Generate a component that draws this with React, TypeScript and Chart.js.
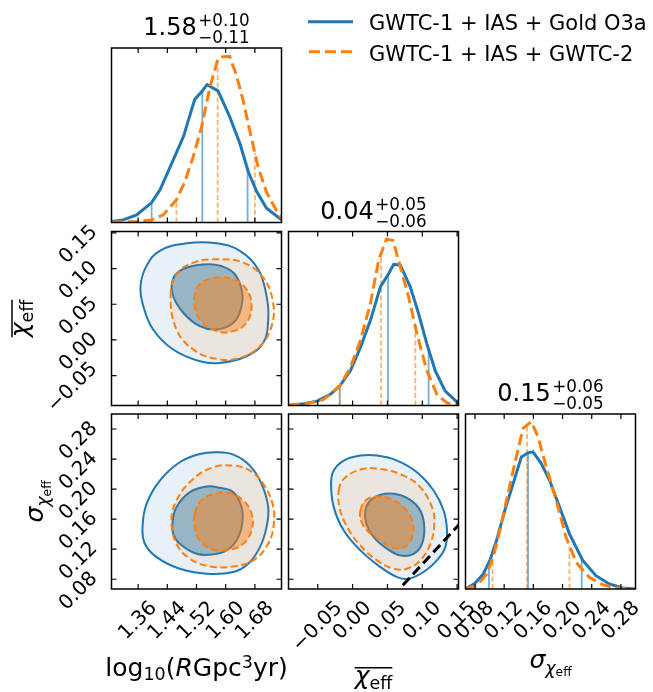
import React, { useEffect, useRef } from "react";
import { Chart, registerables } from "chart.js";

Chart.register(...registerables);

const W = 653;
const H = 692;
const BLUE = "#1f77b4";
const ORANGE = "#ff7f0e";
const FAMILY = '"DejaVu Sans", sans-serif';

// ---------- axis ranges and ticks ----------
const logRRange = [1.287, 1.753];
const chiRange = [-0.092, 0.152];
const sigmaRange = [0.067, 0.3];
const densityRange = [0, 1];

const logRTicks = [1.36, 1.44, 1.52, 1.6, 1.68];
const logRTickLabels = ["1.36", "1.44", "1.52", "1.60", "1.68"];
const chiTicks = [-0.05, 0, 0.05, 0.1, 0.15];
const chiTickLabels = ["\u22120.05", "0.00", "0.05", "0.10", "0.15"];
const sigmaTicks = [0.08, 0.12, 0.16, 0.2, 0.24, 0.28];
const sigmaTickLabels = ["0.08", "0.12", "0.16", "0.20", "0.24", "0.28"];

const seriesNames = ["GWTC-1 + IAS + Gold O3a", "GWTC-1 + IAS + GWTC-2"];
const logRTitle = ["1.58", "+0.10", "\u22120.11"];
const chiTitle = ["0.04", "+0.05", "\u22120.06"];
const sigmaTitle = ["0.15", "+0.06", "\u22120.05"];

// ---------- 1D marginals (relative density) ----------
const goldLogRX = [1.287, 1.319, 1.356, 1.397, 1.42, 1.456, 1.484, 1.515, 1.534, 1.549, 1.579, 1.611, 1.639, 1.662, 1.685, 1.712, 1.753];
const goldLogRY = [0.006, 0.015, 0.044, 0.114, 0.187, 0.358, 0.491, 0.705, 0.749, 0.79, 0.754, 0.606, 0.453, 0.291, 0.177, 0.082, 0.015];
const gwtc2LogRX = [1.287, 1.356, 1.397, 1.429, 1.465, 1.488, 1.511, 1.534, 1.557, 1.579, 1.589, 1.611, 1.63, 1.648, 1.666, 1.689, 1.712, 1.739, 1.753];
const gwtc2LogRY = [0.002, 0.006, 0.015, 0.044, 0.13, 0.234, 0.377, 0.549, 0.777, 0.939, 0.949, 0.952, 0.84, 0.697, 0.526, 0.316, 0.173, 0.069, 0.025];
const goldLogRQuantiles = [1.397, 1.536, 1.66];
const gwtc2LogRQuantiles = [1.465, 1.578, 1.68];

const goldChiX = [-0.0916, -0.0701, -0.051, -0.0319, -0.0185, -0.0032, 0.0112, 0.0255, 0.0398, 0.0518, 0.059, 0.0685, 0.0829, 0.0948, 0.1067, 0.1187, 0.133, 0.152];
const goldChiY = [0.002, 0.01, 0.025, 0.064, 0.112, 0.199, 0.334, 0.488, 0.681, 0.759, 0.811, 0.807, 0.681, 0.527, 0.353, 0.199, 0.083, 0.012];
const gwtc2ChiX = [-0.0916, -0.0653, -0.0414, -0.0185, -0.0032, 0.0112, 0.0255, 0.0375, 0.0485, 0.058, 0.0685, 0.0805, 0.0924, 0.1067, 0.121, 0.1354, 0.152];
const gwtc2ChiY = [0.002, 0.012, 0.035, 0.112, 0.218, 0.373, 0.585, 0.836, 0.956, 0.948, 0.797, 0.623, 0.411, 0.199, 0.064, 0.015, 0.002];
const goldChiQuantiles = [-0.0185, 0.0509, 0.1091];
const gwtc2ChiQuantiles = [-0.0185, 0.0408, 0.09];

const goldSigX = [0.0673, 0.08, 0.0914, 0.1005, 0.1095, 0.1209, 0.1323, 0.1436, 0.1527, 0.1595, 0.1709, 0.1822, 0.1959, 0.2095, 0.2277, 0.2458, 0.264, 0.2822, 0.299];
const goldSigY = [0, 0.033, 0.086, 0.163, 0.277, 0.449, 0.602, 0.755, 0.778, 0.784, 0.717, 0.621, 0.468, 0.315, 0.163, 0.076, 0.029, 0.006, 0];
const gwtc2SigX = [0.0673, 0.0823, 0.0959, 0.105, 0.1141, 0.1232, 0.1345, 0.1459, 0.1572, 0.1663, 0.1777, 0.1913, 0.2049, 0.2186, 0.2367, 0.2549, 0.273, 0.299];
const gwtc2SigY = [0, 0.019, 0.086, 0.182, 0.335, 0.507, 0.717, 0.918, 0.956, 0.87, 0.698, 0.507, 0.296, 0.153, 0.067, 0.025, 0.006, 0];
const goldSigQuantiles = [0.0991, 0.1527, 0.2263];
const gwtc2SigQuantiles = [0.1041, 0.1513, 0.2095];

// ---------- 2D credible contours (outer / inner levels) ----------
const goldLogRChiOuter = [[1.3665, 0.0756], [1.383, 0.1038], [1.4195, 0.1249], [1.493, 0.1356], [1.575, 0.1356], [1.639, 0.1249], [1.689, 0.0991], [1.712, 0.0615], [1.7166, 0.0287], [1.703, -0.0041], [1.657, -0.0229], [1.584, -0.0323], [1.529, -0.0299], [1.456, -0.0135], [1.401, 0.0146], [1.374, 0.0475]];
const goldLogRChiInner = [[1.454, 0.0826], [1.474, 0.0967], [1.52, 0.1047], [1.575, 0.1052], [1.621, 0.0944], [1.6435, 0.0709], [1.6435, 0.0475], [1.621, 0.024], [1.575, 0.0146], [1.529, 0.0193], [1.4835, 0.0381], [1.456, 0.0615]];
const gwtc2LogRChiOuter = [[1.449, 0.0615], [1.465, 0.092], [1.511, 0.1084], [1.575, 0.1131], [1.648, 0.1084], [1.703, 0.0873], [1.73, 0.0522], [1.726, 0.0193], [1.694, -0.0088], [1.639, -0.0252], [1.575, -0.0266], [1.511, -0.0135], [1.465, 0.0146]];
const gwtc2LogRChiInner = [[1.514, 0.0569], [1.529, 0.078], [1.575, 0.0873], [1.621, 0.085], [1.657, 0.0709], [1.671, 0.0475], [1.657, 0.024], [1.621, 0.0123], [1.575, 0.0123], [1.529, 0.0287]];

const goldLogRSigOuter = [[1.372, 0.1494], [1.383, 0.1804], [1.4195, 0.2114], [1.474, 0.2358], [1.529, 0.2468], [1.575, 0.2491], [1.621, 0.246], [1.6663, 0.2313], [1.6983, 0.207], [1.7166, 0.176], [1.712, 0.1494], [1.694, 0.1228], [1.6617, 0.1006], [1.621, 0.0896], [1.5475, 0.0874], [1.474, 0.094], [1.4104, 0.1095], [1.3784, 0.1272]];
const goldLogRSigInner = [[1.454, 0.1538], [1.465, 0.176], [1.5018, 0.1959], [1.5475, 0.2034], [1.584, 0.2017], [1.621, 0.1959], [1.6435, 0.176], [1.6453, 0.1538], [1.6298, 0.1317], [1.6023, 0.1184], [1.5658, 0.1131], [1.52, 0.1139], [1.474, 0.1272], [1.456, 0.1405]];
const gwtc2LogRSigOuter = [[1.4515, 0.1582], [1.465, 0.1848], [1.511, 0.2136], [1.5658, 0.2291], [1.621, 0.2313], [1.6663, 0.2247], [1.703, 0.207], [1.7285, 0.1804], [1.732, 0.1538], [1.7166, 0.1272], [1.6755, 0.1051], [1.621, 0.0971], [1.5566, 0.0971], [1.5018, 0.1073], [1.465, 0.1272]];
const gwtc2LogRSigInner = [[1.5155, 0.1671], [1.529, 0.1826], [1.5658, 0.1937], [1.6115, 0.1946], [1.648, 0.1848], [1.671, 0.1671], [1.671, 0.1449], [1.648, 0.1272], [1.6115, 0.1193], [1.5658, 0.1193], [1.529, 0.1317], [1.5155, 0.1494]];

const goldChiSigOuter = [[-0.0309, 0.207], [-0.0271, 0.2247], [-0.0127, 0.238], [0.0112, 0.2446], [0.0351, 0.2446], [0.0638, 0.238], [0.0924, 0.2225], [0.1163, 0.1981], [0.1307, 0.1715], [0.1355, 0.1449], [0.1331, 0.1228], [0.1211, 0.1051], [0.102, 0.0896], [0.0805, 0.0807], [0.0638, 0.0829], [0.0399, 0.0962], [0.0112, 0.1184], [-0.0127, 0.1449], [-0.0271, 0.176]];
const goldChiSigInner = [[0.0183, 0.1715], [0.0255, 0.1848], [0.0399, 0.1924], [0.059, 0.1937], [0.0805, 0.187], [0.0972, 0.1715], [0.1029, 0.1494], [0.0996, 0.1272], [0.0877, 0.1139], [0.0685, 0.1117], [0.0494, 0.1206], [0.0303, 0.1361], [0.0198, 0.1538]];
const gwtc2ChiSigOuter = [[-0.0199, 0.1981], [-0.0127, 0.2136], [0.0112, 0.226], [0.0399, 0.2269], [0.0733, 0.218], [0.0972, 0.2025], [0.1139, 0.176], [0.1173, 0.1538], [0.1116, 0.1272], [0.0972, 0.1051], [0.0781, 0.094], [0.059, 0.094], [0.0351, 0.1051], [0.0088, 0.1272], [-0.0103, 0.1538], [-0.0189, 0.176]];
const gwtc2ChiSigInner = [[0.0112, 0.1715], [0.0183, 0.1848], [0.0351, 0.1901], [0.0542, 0.187], [0.0757, 0.1737], [0.0867, 0.1538], [0.0853, 0.1361], [0.0757, 0.1237], [0.059, 0.1215], [0.0399, 0.1317], [0.0207, 0.1449], [0.0121, 0.1582]];

// line sigma = chi
const equalityLine = [0.072, 0.16];

// ---------- layout ----------
const COLS = [[111.5, 281.5], [288.5, 458.5], [465.5, 635.5]];
const ROWS = [[48, 222.5], [231.5, 405.5], [414, 589]];
const TICK_LEN = 5;
const TICK_FS = 20;

// ---------- helpers ----------
const fontOf = (s: number, it?: boolean) => `${it ? "italic " : ""}${s}px ${FAMILY}`;
const toPts = (xs: number[], ys: number[]) => xs.map((x, i) => ({ x, y: ys[i] }));
const pairPts = (pts: number[][]) => pts.map(([x, y]) => ({ x, y }));
function interp(xs: number[], ys: number[], v: number) {
  for (let i = 0; i < xs.length - 1; i++) {
    if (v >= xs[i] && v <= xs[i + 1]) {
      const t = (v - xs[i]) / (xs[i + 1] - xs[i]);
      return ys[i] + t * (ys[i + 1] - ys[i]);
    }
  }
  return 0;
}

function curveDs(xs: number[], ys: number[], color: string, dashed: boolean) {
  return {
    data: toPts(xs, ys),
    showLine: true,
    borderColor: color,
    borderWidth: 3,
    borderDash: dashed ? [11, 5] : [],
    pointRadius: 0,
    tension: 0,
    fill: false,
  };
}
function quantileDs(qs: number[], xs: number[], ys: number[], color: string, dashed: boolean) {
  return qs.map((q) => ({
    data: [{ x: q, y: 0 }, { x: q, y: interp(xs, ys, q) }],
    showLine: true,
    borderColor: color,
    borderWidth: 1.8,
    borderDash: dashed ? [5, 2.5] : [],
    pointRadius: 0,
    fill: false,
  }));
}
function contourDs(pts: number[][], fillColor: string, lineColor: string, dashed: boolean) {
  return {
    data: pairPts(pts),
    closed: true,
    showLine: true,
    fill: "shape",
    backgroundColor: fillColor,
    borderColor: lineColor,
    borderWidth: 2,
    borderDash: dashed ? [7, 3.5] : [],
    pointRadius: 0,
    tension: 0.4,
  };
}
function contourSet(bo: number[][], bi: number[][], oo: number[][], oi: number[][]) {
  return [
    contourDs(bo, "rgba(31,119,180,0.1)", BLUE, false),
    contourDs(bi, "rgba(31,119,180,0.45)", BLUE, false),
    contourDs(oo, "rgba(255,127,14,0.1)", ORANGE, true),
    contourDs(oi, "rgba(255,127,14,0.45)", ORANGE, true),
  ];
}

type Run = { t: string; s: number; dy?: number; it?: boolean };
function runsWidth(ctx: CanvasRenderingContext2D, runs: Run[]) {
  let w = 0;
  for (const r of runs) {
    ctx.font = fontOf(r.s, r.it);
    w += ctx.measureText(r.t).width;
  }
  return w;
}
function drawRuns(ctx: CanvasRenderingContext2D, runs: Run[], cx: number, baseline: number, overline?: number) {
  ctx.textAlign = "left";
  ctx.textBaseline = "alphabetic";
  const total = runsWidth(ctx, runs);
  let x = cx - total / 2;
  for (const r of runs) {
    ctx.font = fontOf(r.s, r.it);
    ctx.fillText(r.t, x, baseline + (r.dy || 0));
    x += ctx.measureText(r.t).width;
  }
  if (overline !== undefined) {
    ctx.lineWidth = 1.5;
    ctx.setLineDash([]);
    ctx.beginPath();
    ctx.moveTo(cx - total / 2, baseline + overline);
    ctx.lineTo(cx + total / 2, baseline + overline);
    ctx.stroke();
  }
}
function drawTitle(ctx: CanvasRenderingContext2D, cx: number, baseline: number, parts: string[]) {
  ctx.textAlign = "left";
  ctx.textBaseline = "alphabetic";
  ctx.font = fontOf(24);
  const wm = ctx.measureText(parts[0]).width;
  ctx.font = fontOf(16.8);
  const ws = Math.max(ctx.measureText(parts[1]).width, ctx.measureText(parts[2]).width);
  const gap = 1.5;
  const x0 = cx - (wm + gap + ws) / 2;
  ctx.font = fontOf(24);
  ctx.fillText(parts[0], x0, baseline);
  ctx.font = fontOf(16.8);
  ctx.fillText(parts[1], x0 + wm + gap, baseline - 9);
  ctx.fillText(parts[2], x0 + wm + gap, baseline + 7.7);
}

const chiLabelRuns: Run[] = [{ t: "\u03c7", s: 25, it: true }, { t: "eff", s: 17.5, dy: 5.3 }];
const sigmaLabelRuns: Run[] = [
  { t: "\u03c3", s: 25, it: true },
  { t: "\u03c7", s: 17.5, dy: 5.6, it: true },
  { t: "eff", s: 12.25, dy: 7.5 },
];
const logRLabelRuns: Run[] = [
  { t: "log", s: 25 },
  { t: "10", s: 17.5, dy: 4 },
  { t: "(", s: 25 },
  { t: "R", s: 25, it: true },
  { t: "Gpc", s: 25 },
  { t: "3", s: 17.5, dy: -8.3 },
  { t: "yr)", s: 25 },
];

type Panel = {
  col: number;
  row: number;
  xRange: number[];
  yRange: number[];
  xTicks: number[];
  yTicks: number[] | null;
  xTickLabels: string[] | null;
  yTickLabels: string[] | null;
  datasets: any[];
  extra?: (ctx: CanvasRenderingContext2D, chart: any) => void;
};

const colCenter = (c: number) => (COLS[c][0] + COLS[c][1]) / 2;
const rowCenter = (r: number) => (ROWS[r][0] + ROWS[r][1]) / 2;

const PANELS: Panel[] = [
  {
    col: 0, row: 0, xRange: logRRange, yRange: densityRange,
    xTicks: logRTicks, yTicks: null, xTickLabels: null, yTickLabels: null,
    datasets: [
      ...quantileDs(goldLogRQuantiles, goldLogRX, goldLogRY, "rgba(31,119,180,0.6)", false),
      ...quantileDs(gwtc2LogRQuantiles, gwtc2LogRX, gwtc2LogRY, "rgba(255,127,14,0.6)", true),
      curveDs(goldLogRX, goldLogRY, BLUE, false),
      curveDs(gwtc2LogRX, gwtc2LogRY, ORANGE, true),
    ],
    extra: (ctx, chart) => {
      drawTitle(ctx, colCenter(0), chart.chartArea.top - 12.7, logRTitle);
      // legend
      ctx.setLineDash([]);
      ctx.lineWidth = 3;
      ctx.strokeStyle = BLUE;
      ctx.beginPath(); ctx.moveTo(308, 21.7); ctx.lineTo(353, 21.7); ctx.stroke();
      ctx.strokeStyle = ORANGE;
      ctx.setLineDash([11, 5]);
      ctx.beginPath(); ctx.moveTo(309, 51.7); ctx.lineTo(353, 51.7); ctx.stroke();
      ctx.setLineDash([]);
      ctx.fillStyle = "#000";
      ctx.font = fontOf(21);
      ctx.textAlign = "left";
      ctx.textBaseline = "alphabetic";
      ctx.fillText(seriesNames[0], 369, 29.5);
      ctx.fillText(seriesNames[1], 369, 60.8);
    },
  },
  {
    col: 0, row: 1, xRange: logRRange, yRange: chiRange,
    xTicks: logRTicks, yTicks: chiTicks, xTickLabels: null, yTickLabels: chiTickLabels,
    datasets: contourSet(goldLogRChiOuter, goldLogRChiInner, gwtc2LogRChiOuter, gwtc2LogRChiInner),
    extra: (ctx) => {
      ctx.save();
      ctx.translate(28, rowCenter(1));
      ctx.rotate(-Math.PI / 2);
      drawRuns(ctx, chiLabelRuns, 0, 0, -16);
      ctx.restore();
    },
  },
  {
    col: 1, row: 1, xRange: chiRange, yRange: densityRange,
    xTicks: chiTicks, yTicks: null, xTickLabels: null, yTickLabels: null,
    datasets: [
      ...quantileDs(goldChiQuantiles, goldChiX, goldChiY, "rgba(31,119,180,0.6)", false),
      ...quantileDs(gwtc2ChiQuantiles, gwtc2ChiX, gwtc2ChiY, "rgba(255,127,14,0.6)", true),
      curveDs(goldChiX, goldChiY, BLUE, false),
      curveDs(gwtc2ChiX, gwtc2ChiY, ORANGE, true),
    ],
    extra: (ctx, chart) => drawTitle(ctx, colCenter(1), chart.chartArea.top - 12.7, chiTitle),
  },
  {
    col: 0, row: 2, xRange: logRRange, yRange: sigmaRange,
    xTicks: logRTicks, yTicks: sigmaTicks, xTickLabels: logRTickLabels, yTickLabels: sigmaTickLabels,
    datasets: contourSet(goldLogRSigOuter, goldLogRSigInner, gwtc2LogRSigOuter, gwtc2LogRSigInner),
    extra: (ctx) => {
      drawRuns(ctx, logRLabelRuns, colCenter(0), 676);
      ctx.save();
      ctx.translate(43.3, rowCenter(2));
      ctx.rotate(-Math.PI / 2);
      drawRuns(ctx, sigmaLabelRuns, 0, 0);
      ctx.restore();
    },
  },
  {
    col: 1, row: 2, xRange: chiRange, yRange: sigmaRange,
    xTicks: chiTicks, yTicks: sigmaTicks, xTickLabels: chiTickLabels, yTickLabels: null,
    datasets: [
      ...contourSet(goldChiSigOuter, goldChiSigInner, gwtc2ChiSigOuter, gwtc2ChiSigInner),
      {
        data: equalityLine.map((v) => ({ x: v, y: v })),
        showLine: true,
        borderColor: "#000",
        borderWidth: 3,
        borderDash: [10, 5],
        pointRadius: 0,
        fill: false,
        clip: 0,
      },
    ],
    extra: (ctx) => drawRuns(ctx, chiLabelRuns, colCenter(1), 683.7, -16),
  },
  {
    col: 2, row: 2, xRange: sigmaRange, yRange: densityRange,
    xTicks: sigmaTicks, yTicks: null, xTickLabels: sigmaTickLabels, yTickLabels: null,
    datasets: [
      ...quantileDs(goldSigQuantiles, goldSigX, goldSigY, "rgba(31,119,180,0.6)", false),
      ...quantileDs(gwtc2SigQuantiles, gwtc2SigX, gwtc2SigY, "rgba(255,127,14,0.6)", true),
      curveDs(goldSigX, goldSigY, BLUE, false),
      curveDs(gwtc2SigX, gwtc2SigY, ORANGE, true),
    ],
    extra: (ctx, chart) => {
      drawTitle(ctx, colCenter(2), chart.chartArea.top - 12.7, sigmaTitle);
      drawRuns(ctx, sigmaLabelRuns, colCenter(2), 668);
    },
  },
];

const loopPlugin = {
  id: "closedLoops",
  afterDatasetUpdate(chart: any, args: any) {
    const ds = chart.data.datasets[args.index];
    if (ds && ds.closed && args.meta && args.meta.dataset) {
      args.meta.dataset._loop = true;
      args.meta.dataset._fullLoop = true;
    }
  },
};

function decorPlugin(p: Panel) {
  return {
    id: "panelDecor",
    afterDatasetsDraw(chart: any) {
      const { ctx, chartArea: a, scales } = chart;
      const xs = scales.x;
      const ys = scales.y;
      ctx.save();
      ctx.setLineDash([]);
      ctx.strokeStyle = "#000";
      ctx.fillStyle = "#000";
      ctx.lineWidth = 1.2;
      ctx.beginPath();
      for (const v of p.xTicks) {
        const px = xs.getPixelForValue(v);
        ctx.moveTo(px, a.bottom);
        ctx.lineTo(px, a.bottom - TICK_LEN);
        ctx.moveTo(px, a.top);
        ctx.lineTo(px, a.top + TICK_LEN);
      }
      if (p.yTicks) {
        for (const v of p.yTicks) {
          const py = ys.getPixelForValue(v);
          ctx.moveTo(a.left, py);
          ctx.lineTo(a.left + TICK_LEN, py);
          ctx.moveTo(a.right, py);
          ctx.lineTo(a.right - TICK_LEN, py);
        }
      }
      ctx.stroke();
      ctx.lineWidth = 1.5;
      ctx.strokeRect(a.left, a.top, a.right - a.left, a.bottom - a.top);

      ctx.font = fontOf(TICK_FS);
      ctx.textAlign = "center";
      ctx.textBaseline = "middle";
      const hh = 0.73 * TICK_FS;
      if (p.xTickLabels) {
        p.xTicks.forEach((v, i) => {
          const lab = p.xTickLabels![i];
          const w = ctx.measureText(lab).width;
          const px = xs.getPixelForValue(v);
          const cy = a.bottom + 11 + ((w + hh) * Math.SQRT1_2) / 2;
          ctx.save();
          ctx.translate(px, cy);
          ctx.rotate(-Math.PI / 4);
          ctx.fillText(lab, 0, 0);
          ctx.restore();
        });
      }
      if (p.yTickLabels && p.yTicks) {
        p.yTicks.forEach((v, i) => {
          const lab = p.yTickLabels![i];
          const w = ctx.measureText(lab).width;
          const py = ys.getPixelForValue(v);
          const cx = a.left - 12 - ((w + hh) * Math.SQRT1_2) / 2;
          ctx.save();
          ctx.translate(cx, py + 12);
          ctx.rotate(-Math.PI / 4);
          ctx.fillText(lab, 0, 0);
          ctx.restore();
        });
      }
      ctx.fillStyle = "#000";
      ctx.strokeStyle = "#000";
      if (p.extra) p.extra(ctx, chart);
      ctx.restore();
    },
  };
}

function makeChart(canvas: HTMLCanvasElement, p: Panel) {
  const [L, R] = COLS[p.col];
  const [T, B] = ROWS[p.row];
  const n = p.datasets.length;
  const datasets = p.datasets.map((d, i) => ({ ...d, order: n - i }));
  return new Chart(canvas, {
    type: "scatter",
    data: { datasets },
    options: {
      responsive: false,
      maintainAspectRatio: false,
      animation: false,
      events: [],
      layout: { padding: { left: L, top: T, right: W - R, bottom: H - B } },
      plugins: { legend: { display: false }, tooltip: { enabled: false }, title: { display: false } },
      scales: {
        x: { type: "linear", display: false, min: p.xRange[0], max: p.xRange[1] },
        y: { type: "linear", display: false, min: p.yRange[0], max: p.yRange[1] },
      },
    } as any,
    plugins: [loopPlugin, decorPlugin(p)],
  } as any);
}

export default function App() {
  const refs = useRef<(HTMLCanvasElement | null)[]>([]);
  useEffect(() => {
    const charts = PANELS.map((p, i) => makeChart(refs.current[i] as HTMLCanvasElement, p));
    return () => charts.forEach((c) => c.destroy());
  }, []);
  return (
    <div style={{ position: "fixed", left: 0, top: 0, width: W, height: H, background: "#fff" }}>
      {PANELS.map((_, i) => (
        <canvas
          key={i}
          ref={(el) => {
            refs.current[i] = el;
          }}
          width={W}
          height={H}
          style={{ position: "absolute", left: 0, top: 0, width: W, height: H }}
        />
      ))}
    </div>
  );
}
